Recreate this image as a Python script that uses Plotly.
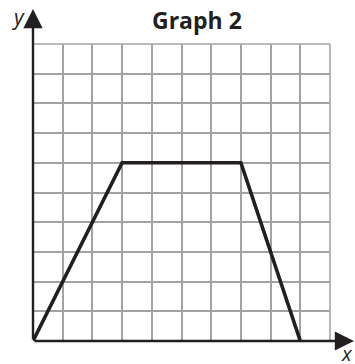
import plotly.graph_objects as go

# Data
x_vals = [0, 3, 7, 9]
y_vals = [0, 6, 6, 0]
x_range = [0, 10]
y_range = [0, 10]
title_text = "Graph 2"
x_label = "x"
y_label = "y"

W, H = 355, 364
# plot area in page pixels: x 33..330, y 44..341
L, T = 33, 44
R, B = W - 330, H - 341
pw, ph = W - L - R, H - T - B
ink = "#231f20"
grid = "#a3a3a3"


def px(xp):  # page x -> paper
    return (xp - L) / pw


def py(yp):  # page y -> paper
    return (H - B - yp) / ph


fig = go.Figure()
fig.add_trace(go.Scatter(x=x_vals, y=y_vals, mode="lines",
                         line=dict(color=ink, width=3.6),
                         cliponaxis=False, hoverinfo="skip"))

axis_common = dict(showticklabels=False, ticks="", zeroline=False,
                   showgrid=True, gridcolor=grid, gridwidth=1.6,
                   dtick=1, tick0=0, fixedrange=True, showline=False)
fig.update_xaxes(range=x_range, **axis_common)
fig.update_yaxes(range=y_range, **axis_common)

# top and right grid borders
fig.add_shape(type="line", xref="paper", yref="paper", x0=0, x1=1, y0=1, y1=1,
              line=dict(color=grid, width=1.6), layer="below")
fig.add_shape(type="line", xref="paper", yref="paper", x0=1, x1=1, y0=0, y1=1,
              line=dict(color=grid, width=1.6), layer="below")

# axes with arrowheads
fig.add_annotation(x=0, y=py(9), xref="paper", yref="paper", ax=0, ay=(H - B) - 9,
                   axref="pixel", ayref="pixel", showarrow=True, arrowhead=2,
                   arrowsize=1.6, arrowwidth=2.4, arrowcolor=ink, text="")
fig.add_annotation(x=px(354), y=0, xref="paper", yref="paper", ax=-(354 - L), ay=0,
                   axref="pixel", ayref="pixel", showarrow=True, arrowhead=2,
                   arrowsize=1.6, arrowwidth=2.4, arrowcolor=ink, text="")

# labels
fig.add_annotation(x=px(18), y=py(17), xref="paper", yref="paper",
                   text=f"<i>{y_label}</i>", showarrow=False,
                   font=dict(family="Open Sans", size=21, color=ink),
                   xanchor="center", yanchor="middle")
fig.add_annotation(x=px(347), y=py(353), xref="paper", yref="paper",
                   text=f"<i>{x_label}</i>", showarrow=False,
                   font=dict(family="Open Sans", size=20, color=ink),
                   xanchor="center", yanchor="middle")
fig.add_annotation(x=px(196.5), y=py(20), xref="paper", yref="paper",
                   text=f"<b>{title_text}</b>", showarrow=False,
                   font=dict(family="Open Sans", size=23, color=ink),
                   xanchor="center", yanchor="middle")

fig.update_layout(width=W, height=H, margin=dict(l=L, r=R, t=T, b=B, pad=0),
                  plot_bgcolor="white", paper_bgcolor="white", showlegend=False)

fig.write_html("out.html", config=dict(displayModeBar=False),
               post_script="document.body.style.margin='0';")
